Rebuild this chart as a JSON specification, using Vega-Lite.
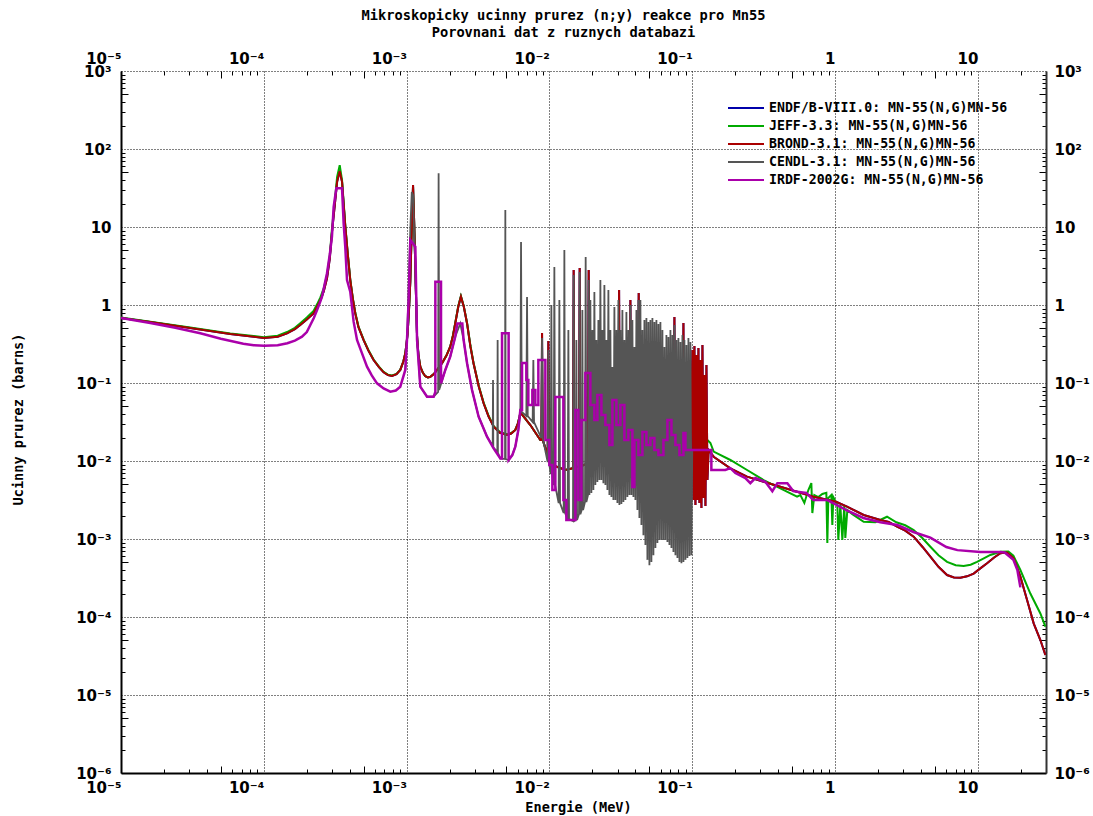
{
"$schema":"https://vega.github.io/schema/vega-lite/v6.json",
"width":925,"height":702,
"autosize":{"type":"none"},
"padding":{"left":121,"top":71,"right":47,"bottom":43},
"background":"white",
"title":{"text":["Mikroskopicky ucinny prurez (n;y) reakce pro Mn55","Porovnani dat z ruznych databazi"],"anchor":"middle","frame":"group","dx":-20,"dy":33,"font":"DejaVu Sans Mono","fontSize":13.7,"fontWeight":"bold","color":"#000","lineHeight":17,"offset":30,"baseline":"bottom"},
"datasets":{
"brond":[
{"E":1e-5,"s":0.68},{"E":1.6e-5,"s":0.605},{"E":3.05e-5,"s":0.507},{"E":5.82e-5,"s":0.425},{"E":1e-4,"s":0.377},{"E":1.25e-4,"s":0.392},{"E":1.454e-4,"s":0.433},{"E":1.65e-4,"s":0.49},{"E":1.8e-4,"s":0.554},{"E":2.0e-4,"s":0.65},{"E":2.23e-4,"s":0.78},{"E":2.36e-4,"s":0.95},{"E":2.49e-4,"s":1.15},{"E":2.63e-4,"s":1.5},{"E":2.77e-4,"s":2.2},{"E":2.9e-4,"s":4.0},{"E":3.0e-4,"s":8.5},{"E":3.13e-4,"s":18},{"E":3.26e-4,"s":38},{"E":3.4e-4,"s":52},{"E":3.53e-4,"s":38},{"E":3.62e-4,"s":20},{"E":3.72e-4,"s":10.1},{"E":3.87e-4,"s":4.5},{"E":4.03e-4,"s":2.09},{"E":4.2e-4,"s":1.2},{"E":4.37e-4,"s":0.78},{"E":4.6e-4,"s":0.52},{"E":5.0e-4,"s":0.355},{"E":5.4e-4,"s":0.26},{"E":5.87e-4,"s":0.197},{"E":6.4e-4,"s":0.16},{"E":6.9e-4,"s":0.137},{"E":7.4e-4,"s":0.126},{"E":7.9e-4,"s":0.123},{"E":8.5e-4,"s":0.13},{"E":9.03e-4,"s":0.147},{"E":9.5e-4,"s":0.19},{"E":9.79e-4,"s":0.24},{"E":1.0e-3,"s":0.33},{"E":1.016e-3,"s":0.43},{"E":1.04e-3,"s":0.9},{"E":1.061e-3,"s":2.0},{"E":1.087e-3,"s":10},{"E":1.109e-3,"s":34.5},{"E":1.132e-3,"s":10},{"E":1.16e-3,"s":1.6},{"E":1.183e-3,"s":0.4},{"E":1.21e-3,"s":0.23},{"E":1.247e-3,"s":0.162},{"E":1.3e-3,"s":0.135},{"E":1.352e-3,"s":0.122},{"E":1.41e-3,"s":0.118},{"E":1.466e-3,"s":0.12},{"E":1.55e-3,"s":0.13},{"E":1.633e-3,"s":0.147},{"E":1.77e-3,"s":0.179},{"E":1.9e-3,"s":0.225},{"E":2.02e-3,"s":0.292},{"E":2.11e-3,"s":0.4},{"E":2.19e-3,"s":0.58},{"E":2.3e-3,"s":0.95},{"E":2.4e-3,"s":1.28},{"E":2.515e-3,"s":0.95},{"E":2.65e-3,"s":0.58},{"E":2.8e-3,"s":0.29},{"E":2.94e-3,"s":0.179},{"E":3.2e-3,"s":0.09},{"E":3.46e-3,"s":0.055},{"E":3.75e-3,"s":0.037},{"E":4.07e-3,"s":0.0275},{"E":4.5e-3,"s":0.023},{"E":5.05e-3,"s":0.0216},{"E":5.4e-3,"s":0.0225},{"E":5.77e-3,"s":0.025},{"E":6.0e-3,"s":0.03},{"E":6.18e-3,"s":0.037},
{"E":6.256e-3,"s":0.042},{"E":7.351e-3,"s":0.0289},{"E":8.638e-3,"s":0.0186},{"E":8.778e-3,"s":0.0186},{"E":8.878e-3,"s":0.4375},{"E":8.979e-3,"s":0.0186},{"E":9.718e-3,"s":0.0119},{"E":9.828e-3,"s":0.345},{"E":9.94e-3,"s":0.0119},{"E":1.1003e-2,"s":0.0086},{"E":1.2929e-2,"s":0.0077},{"E":1.4614e-2,"s":0.0081},{"E":1.478e-2,"s":2.81},{"E":1.4948e-2,"s":0.0081},{"E":1.6102e-2,"s":0.0086},{"E":1.6285e-2,"s":2.98},{"E":1.647e-2,"s":0.0086},{"E":1.7852e-2,"s":0.009},{"E":1.8618e-2,"s":0.0093},{"E":1.8829e-2,"s":2.81},{"E":1.9043e-2,"s":0.0095},{"E":2.0977e-2,"s":0.0105},{"E":2.465e-2,"s":0.011},{"E":3.04e-2,"s":0.011},{"E":3.0747e-2,"s":1.56},{"E":3.11e-2,"s":0.011},{"E":3.648e-2,"s":0.011},{"E":3.6896e-2,"s":1.16},{"E":3.731e-2,"s":0.011},{"E":4.171e-2,"s":0.011},{"E":4.2183e-2,"s":1.42},{"E":4.266e-2,"s":0.011},{"E":5.0945e-2,"s":0.011},{"E":7.419e-2,"s":0.011},{"E":7.5033e-2,"s":0.702},{"E":7.589e-2,"s":0.011},{"E":8.578e-2,"s":0.011},{"E":8.6758e-2,"s":0.588},{"E":8.774e-2,"s":0.011},{"E":9.713e-2,"s":0.011},
{"E":0.100315,"s":0.265},{"E":0.101947,"s":0.00316},{"E":0.103604,"s":0.298},{"E":0.105289,"s":0.00273},{"E":0.107002,"s":0.229},{"E":0.108742,"s":0.00316},{"E":0.11051,"s":0.281},{"E":0.112308,"s":0.00289},{"E":0.11413,"s":0.197},{"E":0.11599,"s":0.0025},{"E":0.11788,"s":0.307},{"E":0.11979,"s":0.00335},{"E":0.12174,"s":0.127},{"E":0.12372,"s":0.00265},{"E":0.12573,"s":0.17},{"E":0.12778,"s":0.00571},
{"E":0.1302,"s":0.0138},{"E":0.1412,"s":0.01135},{"E":0.1849,"s":0.00805},{"E":0.242,"s":0.0063},{"E":0.3162,"s":0.00543},{"E":0.414,"s":0.00468},{"E":0.5418,"s":0.00404},{"E":0.7083,"s":0.00349},{"E":1.016,"s":0.003},{"E":1.213,"s":0.0026},{"E":1.586,"s":0.00203},{"E":2.076,"s":0.00175},{"E":2.374,"s":0.00166},{"E":2.718,"s":0.00144},{"E":3.1,"s":0.00128},{"E":3.552,"s":0.00107},{"E":4.1,"s":0.00079},{"E":4.65,"s":0.000593},{"E":5.3,"s":0.00044},{"E":6.085,"s":0.000345},{"E":6.8,"s":0.000322},{"E":7.544,"s":0.000319},{"E":8.4,"s":0.000332},{"E":9.346,"s":0.00036},{"E":10.4,"s":0.00042},{"E":11.6,"s":0.000488},{"E":13.0,"s":0.00058},{"E":14.38,"s":0.000656},{"E":16.01,"s":0.00067},{"E":17.81,"s":0.000566},{"E":19.85,"s":0.000329},{"E":22.11,"s":0.000165},{"E":24.59,"s":0.000083},{"E":27.4,"s":0.0000507},{"E":29.7,"s":0.0000326}
],
"jeff":[
{"E":1e-5,"s":0.69},{"E":1.6e-5,"s":0.612},{"E":3.05e-5,"s":0.515},{"E":5.82e-5,"s":0.432},{"E":1e-4,"s":0.387},{"E":1.25e-4,"s":0.405},{"E":1.454e-4,"s":0.45},{"E":1.65e-4,"s":0.51},{"E":1.8e-4,"s":0.585},{"E":2.0e-4,"s":0.69},{"E":2.23e-4,"s":0.84},{"E":2.36e-4,"s":1.02},{"E":2.49e-4,"s":1.25},{"E":2.63e-4,"s":1.65},{"E":2.77e-4,"s":2.4},{"E":2.9e-4,"s":4.4},{"E":3.0e-4,"s":9.5},{"E":3.13e-4,"s":20},{"E":3.26e-4,"s":44},{"E":3.4e-4,"s":62},{"E":3.53e-4,"s":40},{"E":3.62e-4,"s":21},{"E":3.72e-4,"s":10.5},{"E":3.87e-4,"s":4.6},{"E":4.03e-4,"s":2.15},{"E":4.2e-4,"s":1.22},{"E":4.37e-4,"s":0.8},{"E":4.6e-4,"s":0.53},{"E":5.0e-4,"s":0.36},{"E":5.4e-4,"s":0.265},{"E":5.87e-4,"s":0.2},{"E":6.4e-4,"s":0.162},{"E":6.9e-4,"s":0.139},{"E":7.4e-4,"s":0.128},{"E":7.9e-4,"s":0.125},{"E":8.5e-4,"s":0.131},{"E":9.03e-4,"s":0.148},{"E":9.5e-4,"s":0.19},{"E":9.79e-4,"s":0.24},{"E":1.0e-3,"s":0.33},{"E":1.016e-3,"s":0.43},{"E":1.04e-3,"s":0.9},{"E":1.061e-3,"s":2.0},{"E":1.087e-3,"s":10},{"E":1.109e-3,"s":33},{"E":1.132e-3,"s":10},{"E":1.16e-3,"s":1.6},{"E":1.183e-3,"s":0.4},{"E":1.21e-3,"s":0.23},{"E":1.247e-3,"s":0.162},{"E":1.3e-3,"s":0.135},{"E":1.352e-3,"s":0.122},{"E":1.41e-3,"s":0.118},{"E":1.466e-3,"s":0.12},{"E":1.55e-3,"s":0.13},{"E":1.633e-3,"s":0.147},{"E":1.77e-3,"s":0.179},{"E":1.9e-3,"s":0.225},{"E":2.02e-3,"s":0.292},{"E":2.11e-3,"s":0.41},{"E":2.19e-3,"s":0.59},{"E":2.3e-3,"s":0.97},{"E":2.4e-3,"s":1.3},{"E":2.515e-3,"s":0.96},{"E":2.65e-3,"s":0.59},{"E":2.8e-3,"s":0.3},{"E":2.94e-3,"s":0.182},{"E":3.2e-3,"s":0.092},{"E":3.46e-3,"s":0.056},{"E":3.75e-3,"s":0.038},{"E":4.07e-3,"s":0.028},{"E":4.5e-3,"s":0.0235},{"E":5.05e-3,"s":0.022},{"E":5.4e-3,"s":0.0228},{"E":5.77e-3,"s":0.025},{"E":6.0e-3,"s":0.03},{"E":6.18e-3,"s":0.037},
{"E":6.256e-3,"s":0.042},{"E":7.351e-3,"s":0.0289},{"E":8.638e-3,"s":0.0186},{"E":8.979e-3,"s":0.0186},{"E":9.718e-3,"s":0.0119},{"E":1.1003e-2,"s":0.0086},{"E":1.2929e-2,"s":0.0077},{"E":1.4614e-2,"s":0.0081},{"E":1.647e-2,"s":0.0086},{"E":1.7852e-2,"s":0.009},{"E":1.9043e-2,"s":0.0095},{"E":2.0977e-2,"s":0.0105},{"E":2.465e-2,"s":0.011},{"E":9.713e-2,"s":0.011},{"E":0.1276,"s":0.0186},
{"E":0.1341,"s":0.017},{"E":0.1412,"s":0.0132},{"E":0.1849,"s":0.0103},{"E":0.242,"s":0.00767},{"E":0.3162,"s":0.0057},{"E":0.414,"s":0.00447},{"E":0.5418,"s":0.00349},{"E":0.5715,"s":0.00366},{"E":0.6095,"s":0.0029},{"E":0.6501,"s":0.00425},{"E":0.6823,"s":0.0052},{"E":0.6934,"s":0.00215},{"E":0.7161,"s":0.00366},{"E":0.7638,"s":0.00345},{"E":0.8147,"s":0.00378},{"E":0.869,"s":0.0039},{"E":0.8831,"s":0.00089},{"E":0.8974,"s":0.00337},{"E":0.9418,"s":0.00366},{"E":0.9572,"s":0.00151},{"E":0.9727,"s":0.00345},{"E":1.038,"s":0.00273},{"E":1.054,"s":0.00097},{"E":1.089,"s":0.00273},{"E":1.125,"s":0.00097},{"E":1.161,"s":0.00273},{"E":1.18,"s":0.00103},{"E":1.219,"s":0.00235},{"E":1.321,"s":0.00208},{"E":1.586,"s":0.00166},{"E":1.915,"s":0.00164},{"E":2.312,"s":0.00193},{"E":2.686,"s":0.00164},{"E":3.1,"s":0.0015},{"E":3.552,"s":0.0013},{"E":4.1,"s":0.00102},{"E":4.65,"s":0.000795},{"E":5.3,"s":0.00062},{"E":6.085,"s":0.00051},{"E":7.0,"s":0.000462},{"E":7.955,"s":0.00045},{"E":8.9,"s":0.000468},{"E":9.87,"s":0.00051},{"E":11.0,"s":0.000565},{"E":12.23,"s":0.000624},{"E":14.38,"s":0.000687},{"E":16.35,"s":0.00069},{"E":17.73,"s":0.00061},{"E":19.85,"s":0.0004},{"E":23.31,"s":0.0002},{"E":27.4,"s":0.000111},{"E":29.7,"s":0.000075}
],
"cendl":[
{"E":9.79e-4,"s":0.147},{"E":1.006e-3,"s":0.356},{"E":1.033e-3,"s":1.56},{"E":1.061e-3,"s":9.15},{"E":1.087e-3,"s":28.1},{"E":1.109e-3,"s":25.7},{"E":1.132e-3,"s":6.81},{"E":1.151e-3,"s":3.78},{"E":1.183e-3,"s":0.356},{"E":1.247e-3,"s":0.0897},{"E":1.39e-3,"s":0.0667},{"E":1.546e-3,"s":0.0667},{"E":1.662e-3,"s":0.0767},{"E":1.675e-3,"s":49},{"E":1.689e-3,"s":0.0813},{"E":1.75e-3,"s":0.1},{"E":1.866e-3,"s":0.147},{"E":2.02e-3,"s":0.217},{"E":2.19e-3,"s":0.392},{"E":2.377e-3,"s":0.58},{"E":2.507e-3,"s":0.356},{"E":2.65e-3,"s":0.179},{"E":2.871e-3,"s":0.0813},{"E":3.193e-3,"s":0.037},{"E":3.656e-3,"s":0.0205},{"E":4.006e-3,"s":0.0156},{"E":4.027e-3,"s":0.109},{"E":4.046e-3,"s":0.015},{"E":4.317e-3,"s":0.013},{"E":4.338e-3,"s":0.356},{"E":4.359e-3,"s":0.0127},{"E":4.53e-3,"s":0.0108},{"E":4.887e-3,"s":0.0106},{"E":4.911e-3,"s":16.5},{"E":4.935e-3,"s":0.0106},{"E":5.18e-3,"s":0.0103},{"E":5.497e-3,"s":0.0119},{"E":5.77e-3,"s":0.0153},{"E":6.056e-3,"s":0.025},{"E":6.256e-3,"s":0.0425},
{"E":6.327e-3,"s":6.42},{"E":6.399e-3,"s":0.0425},
{"E":6.891e-3,"s":0.0378},{"E":6.969e-3,"s":1.27},{"E":7.048e-3,"s":0.0378},
{"E":7.629e-3,"s":0.0316},{"E":7.716e-3,"s":0.197},{"E":7.803e-3,"s":0.0316},
{"E":8.778e-3,"s":0.0197},{"E":8.878e-3,"s":0.378},{"E":8.979e-3,"s":0.0197},
{"E":9.718e-3,"s":0.00971},{"E":9.828e-3,"s":0.265},{"E":9.94e-3,"s":0.00971},
{"E":1.0199e-2,"s":0.00681},{"E":1.0315e-2,"s":1.0},{"E":1.0432e-2,"s":0.00681},
{"E":1.0705e-2,"s":0.00492},{"E":1.0827e-2,"s":3.07},{"E":1.095e-2,"s":0.00492},
{"E":1.1604e-2,"s":0.00289},{"E":1.1736e-2,"s":1.16},{"E":1.1869e-2,"s":0.00289},
{"E":1.2579e-2,"s":0.00215},{"E":1.2722e-2,"s":5.07},{"E":1.2866e-2,"s":0.00215},
{"E":1.3418e-2,"s":0.0018},{"E":1.357e-2,"s":0.478},{"E":1.3724e-2,"s":0.0018},
{"E":1.4614e-2,"s":0.0017},{"E":1.478e-2,"s":2.42},{"E":1.4948e-2,"s":0.0017},
{"E":1.5266e-2,"s":0.00175},{"E":1.5439e-2,"s":0.356},{"E":1.5614e-2,"s":0.00175},
{"E":1.6102e-2,"s":0.00208},{"E":1.6285e-2,"s":2.65},{"E":1.647e-2,"s":0.00208},
{"E":1.6818e-2,"s":0.00235},{"E":1.7009e-2,"s":0.863},{"E":1.7202e-2,"s":0.00235},
{"E":1.7737e-2,"s":0.00298},{"E":1.7938e-2,"s":4.13},{"E":1.8142e-2,"s":0.00298},
{"E":1.8618e-2,"s":0.00366},{"E":1.8829e-2,"s":2.09},{"E":1.9043e-2,"s":0.00366},
{"E":0.019352,"s":1.16},{"E":0.019667,"s":0.0039},{"E":0.019987,"s":0.478},{"E":0.020312,"s":0.00425},{"E":0.020642,"s":1.47},{"E":0.020977,"s":0.00492},{"E":0.021319,"s":0.356},{"E":0.021666,"s":0.00538},{"E":0.022018,"s":0.642},{"E":0.022376,"s":0.00571},
{"E":0.02274,"s":2.09},{"E":0.02311,"s":0.00571},{"E":0.023486,"s":0.478},{"E":0.023868,"s":0.0052},{"E":0.024256,"s":1.8},{"E":0.02465,"s":0.00492},{"E":0.025051,"s":0.356},{"E":0.025458,"s":0.00425},{"E":0.025873,"s":1.56},{"E":0.026294,"s":0.00366},
{"E":0.026721,"s":0.478},{"E":0.027156,"s":0.00345},{"E":0.027597,"s":0.16},{"E":0.028046,"s":0.00316},{"E":0.028502,"s":0.943},{"E":0.028966,"s":0.00316},{"E":0.029436,"s":0.478},{"E":0.029915,"s":0.00289},{"E":0.030402,"s":1.16},{"E":0.030897,"s":0.00273},
{"E":0.031399,"s":0.478},{"E":0.03191,"s":0.00281},{"E":0.032428,"s":0.863},{"E":0.032956,"s":0.00298},{"E":0.033492,"s":0.356},{"E":0.034036,"s":0.00316},{"E":0.03459,"s":0.813},{"E":0.035152,"s":0.00345},{"E":0.035724,"s":0.478},{"E":0.036306,"s":0.00366},
{"E":0.036896,"s":1.0},{"E":0.037496,"s":0.00366},{"E":0.038106,"s":0.642},{"E":0.038726,"s":0.00345},{"E":0.039355,"s":0.289},{"E":0.039995,"s":0.00316},{"E":0.040646,"s":0.863},{"E":0.041307,"s":0.00235},{"E":0.041979,"s":1.16},{"E":0.042662,"s":0.00186},
{"E":0.043355,"s":1.16},{"E":0.04406,"s":0.00151},{"E":0.044777,"s":0.478},{"E":0.045505,"s":0.00112},{"E":0.046245,"s":0.642},{"E":0.046997,"s":0.000838},{"E":0.047761,"s":0.681},{"E":0.048538,"s":0.00054},{"E":0.049327,"s":0.605},{"E":0.05013,"s":0.00046},
{"E":0.050945,"s":0.642},{"E":0.051773,"s":0.000507},{"E":0.052615,"s":0.681},{"E":0.053471,"s":0.00062},{"E":0.054341,"s":0.605},{"E":0.055224,"s":0.000767},{"E":0.056122,"s":0.642},{"E":0.057035,"s":0.000888},{"E":0.057963,"s":0.571},{"E":0.058905,"s":0.00097},
{"E":0.059864,"s":0.605},{"E":0.060837,"s":0.00097},{"E":0.061827,"s":0.478},{"E":0.062832,"s":0.00097},{"E":0.063854,"s":0.289},{"E":0.064893,"s":0.00097},{"E":0.065948,"s":0.412},{"E":0.067021,"s":0.000915},{"E":0.068111,"s":0.389},{"E":0.069218,"s":0.000838},
{"E":0.070344,"s":0.478},{"E":0.071488,"s":0.000767},{"E":0.072651,"s":0.412},{"E":0.073832,"s":0.000681},{"E":0.075033,"s":0.554},{"E":0.076253,"s":0.00062},{"E":0.077493,"s":0.356},{"E":0.078754,"s":0.000571},{"E":0.080034,"s":0.378},{"E":0.081336,"s":0.000507},
{"E":0.082659,"s":0.335},{"E":0.084003,"s":0.00049},{"E":0.085369,"s":0.412},{"E":0.086758,"s":0.000507},{"E":0.088169,"s":0.356},{"E":0.089603,"s":0.00054},{"E":0.09106,"s":0.307},{"E":0.092541,"s":0.000571},{"E":0.094046,"s":0.378},{"E":0.095576,"s":0.000605},
{"E":0.09713,"s":0.335},{"E":0.09871,"s":0.00062},{"E":0.1,"s":0.0138}
],
"irdf":[
{"E":1e-5,"s":0.68},{"E":1.604e-5,"s":0.588},{"E":2.4e-5,"s":0.51},{"E":3.591e-5,"s":0.434},{"E":5.0e-5,"s":0.37},{"E":7.187e-5,"s":0.318},{"E":8.5e-5,"s":0.305},{"E":1.008e-4,"s":0.3},{"E":1.25e-4,"s":0.305},{"E":1.461e-4,"s":0.323},{"E":1.65e-4,"s":0.35},{"E":1.851e-4,"s":0.392},{"E":2.0e-4,"s":0.45},{"E":2.117e-4,"s":0.554},{"E":2.24e-4,"s":0.68},{"E":2.36e-4,"s":0.86},{"E":2.46e-4,"s":1.05},{"E":2.556e-4,"s":1.28},{"E":2.66e-4,"s":1.8},{"E":2.77e-4,"s":2.55},{"E":2.9e-4,"s":4.5},{"E":3.0e-4,"s":7.5},{"E":3.083e-4,"s":18},{"E":3.219e-4,"s":31.3},{"E":3.53e-4,"s":31.3},{"E":3.622e-4,"s":11.2},{"E":3.72e-4,"s":5.5},{"E":3.825e-4,"s":2.09},{"E":4.03e-4,"s":1.48},{"E":4.255e-4,"s":0.611},{"E":4.495e-4,"s":0.356},{"E":4.872e-4,"s":0.24},{"E":5.28e-4,"s":0.162},{"E":5.7e-4,"s":0.125},{"E":6.204e-4,"s":0.099},{"E":6.9e-4,"s":0.085},{"E":7.69e-4,"s":0.0774},{"E":8.4e-4,"s":0.08},{"E":9.03e-4,"s":0.0897},{"E":9.79e-4,"s":0.147},{"E":1.006e-3,"s":0.356},{"E":1.033e-3,"s":1.16},{"E":1.061e-3,"s":6.81},{"E":1.151e-3,"s":5.59},{"E":1.183e-3,"s":0.356},{"E":1.247e-3,"s":0.0897},{"E":1.39e-3,"s":0.0667},{"E":1.546e-3,"s":0.0667},{"E":1.589e-3,"s":0.0767},{"E":1.589e-3,"s":1.99},{"E":1.741e-3,"s":1.99},{"E":1.741e-3,"s":0.0991},{"E":1.866e-3,"s":0.147},{"E":2.02e-3,"s":0.218},{"E":2.19e-3,"s":0.392},{"E":2.265e-3,"s":0.58},{"E":2.455e-3,"s":0.58},{"E":2.507e-3,"s":0.356},{"E":2.65e-3,"s":0.179},{"E":2.871e-3,"s":0.0813},{"E":3.193e-3,"s":0.037},{"E":3.656e-3,"s":0.0205},{"E":4.065e-3,"s":0.0145},{"E":4.53e-3,"s":0.0108},{"E":4.656e-3,"s":0.0108},{"E":4.656e-3,"s":0.434},{"E":5.18e-3,"s":0.434},{"E":5.18e-3,"s":0.0103},{"E":5.497e-3,"s":0.0119},{"E":5.77e-3,"s":0.0153},{"E":6.056e-3,"s":0.025},{"E":6.256e-3,"s":0.0451},
{"E":6.43e-3,"s":0.0451},{"E":6.43e-3,"s":0.1805},{"E":6.892e-3,"s":0.1805},{"E":6.892e-3,"s":0.109},{"E":7.118e-3,"s":0.109},{"E":7.118e-3,"s":0.0522},{"E":7.592e-3,"s":0.0522},{"E":7.592e-3,"s":0.0813},{"E":7.969e-3,"s":0.0813},{"E":7.969e-3,"s":0.0522},{"E":8.364e-3,"s":0.0522},{"E":8.364e-3,"s":0.197},{"E":9.364e-3,"s":0.197},{"E":9.364e-3,"s":0.0186},{"E":9.988e-3,"s":0.0186},{"E":9.988e-3,"s":0.00889},{"E":1.0483e-2,"s":0.00889},{"E":1.0483e-2,"s":0.00425},{"E":1.1003e-2,"s":0.00425},{"E":1.1003e-2,"s":0.0662},{"E":1.2518e-2,"s":0.0662},{"E":1.2518e-2,"s":0.00316},{"E":1.3139e-2,"s":0.00316},{"E":1.3139e-2,"s":0.00175},{"E":1.5192e-2,"s":0.00175},{"E":1.5192e-2,"s":0.0451},{"E":1.5946e-2,"s":0.0451},{"E":1.5946e-2,"s":0.00316},{"E":1.6737e-2,"s":0.00316},{"E":1.6737e-2,"s":0.0335},{"E":1.7852e-2,"s":0.0335},{"E":1.7852e-2,"s":0.1343},{"E":1.9352e-2,"s":0.1343},{"E":1.9352e-2,"s":0.0522},{"E":2.0642e-2,"s":0.0522},{"E":2.0642e-2,"s":0.0335},{"E":2.1666e-2,"s":0.0335},{"E":2.1666e-2,"s":0.0702},{"E":2.311e-2,"s":0.0702},{"E":2.311e-2,"s":0.0389},{"E":2.465e-2,"s":0.0389},{"E":2.465e-2,"s":0.0289},{"E":2.629e-2,"s":0.0289},{"E":2.629e-2,"s":0.016},{"E":2.76e-2,"s":0.016},{"E":2.76e-2,"s":0.0605},{"E":2.944e-2,"s":0.0605},{"E":2.944e-2,"s":0.0289},{"E":3.1399e-2,"s":0.0289},{"E":3.1399e-2,"s":0.0522},{"E":3.349e-2,"s":0.0522},{"E":3.349e-2,"s":0.0186},{"E":3.572e-2,"s":0.0186},{"E":3.572e-2,"s":0.025},{"E":3.811e-2,"s":0.025},{"E":3.811e-2,"s":0.00465},{"E":3.936e-2,"s":0.00465},{"E":3.936e-2,"s":0.0186},{"E":4.198e-2,"s":0.0186},{"E":4.198e-2,"s":0.0119},{"E":4.478e-2,"s":0.0119},{"E":4.478e-2,"s":0.0235},{"E":4.776e-2,"s":0.0235},{"E":4.776e-2,"s":0.016},{"E":5.0945e-2,"s":0.016},{"E":5.0945e-2,"s":0.0197},{"E":5.434e-2,"s":0.0197},{"E":5.434e-2,"s":0.0138},{"E":5.796e-2,"s":0.0138},{"E":5.796e-2,"s":0.0119},{"E":6.283e-2,"s":0.0119},{"E":6.283e-2,"s":0.0186},{"E":6.702e-2,"s":0.0186},{"E":6.702e-2,"s":0.0335},{"E":7.149e-2,"s":0.0335},{"E":7.149e-2,"s":0.0215},{"E":7.625e-2,"s":0.0215},{"E":7.625e-2,"s":0.016},{"E":8.134e-2,"s":0.016},{"E":8.134e-2,"s":0.0119},{"E":8.676e-2,"s":0.0119},{"E":8.676e-2,"s":0.0229},{"E":8.96e-2,"s":0.0229},{"E":8.96e-2,"s":0.0138},
{"E":0.1361,"s":0.0138},{"E":0.1361,"s":0.00767},{"E":0.1705,"s":0.00767},{"E":0.1849,"s":0.0081},{"E":0.2004,"s":0.007},{"E":0.2354,"s":0.00605},{"E":0.2552,"s":0.0052},{"E":0.2767,"s":0.00605},{"E":0.325,"s":0.0054},{"E":0.3638,"s":0.0041},{"E":0.3944,"s":0.0052},{"E":0.4634,"s":0.0052},{"E":0.5105,"s":0.0041},{"E":0.6295,"s":0.0039},{"E":0.7047,"s":0.00316},{"E":0.8834,"s":0.00316},{"E":1.1996,"s":0.00235},{"E":1.579,"s":0.00186},{"E":2.076,"s":0.00164},{"E":2.731,"s":0.00151},{"E":3.535,"s":0.00123},{"E":4.65,"s":0.00104},{"E":6.017,"s":0.00079},{"E":7.185,"s":0.00072},{"E":10.41,"s":0.00068},{"E":14.38,"s":0.00068},{"E":15.41,"s":0.00067},{"E":17.73,"s":0.00054},{"E":18.91,"s":0.0004},{"E":19.85,"s":0.00024}
]
},
"layer":[
{"data":{"name":"brond"},"mark":{"type":"line","strokeWidth":2,"clip":true},
 "encoding":{
  "x":{"field":"E","type":"quantitative","scale":{"type":"log","domain":[0.00001,30],"nice":false},
   "axis":{"orient":"bottom","values":[0.00001,0.00002,0.00003,0.00004,0.00005,0.00006,0.00007,0.00008,0.00009,0.0001,0.0002,0.0003,0.0004,0.0005,0.0006,0.0007,0.0008,0.0009,0.001,0.002,0.003,0.004,0.005,0.006,0.007,0.008,0.009,0.01,0.02,0.03,0.04,0.05,0.06,0.07,0.08,0.09,0.1,0.2,0.3,0.4,0.5,0.6,0.7,0.8,0.9,1,2,3,4,5,6,7,8,9,10,20],
    "labelExpr":"abs(log(datum.value)/LN10-round(log(datum.value)/LN10))<0.001 ? ['10⁻⁶','10⁻⁵','10⁻⁴','10⁻³','10⁻²','10⁻¹','1','10','10²','10³'][round(log(datum.value)/LN10)+6] : ''",
    "grid":true,"gridDash":[1,2],"gridColor":"#000","gridWidth":1,
    "gridOpacity":{"condition":{"test":"abs(log(datum.value)/LN10-round(log(datum.value)/LN10))<0.001","value":1},"value":0},
    "ticks":true,"tickColor":"#000","tickWidth":1,
    "tickSize":{"condition":[{"test":"abs(log(datum.value)/LN10-round(log(datum.value)/LN10))<0.001","value":0},{"test":"abs(datum.value/pow(10,floor(log(datum.value)/LN10+0.0001))-5)<0.01","value":-7}],"value":-4},
    "domain":true,"domainColor":"#000","domainWidth":2,
    "labelFont":"DejaVu Sans","labelFontSize":15,"labelFontWeight":"bold","labelColor":"#000","labelAlign":"right","labelBaseline":"top","labelPadding":7,"labelFlush":false,"labelOverlap":false,"labelBound":false,
    "title":"Energie (MeV)","titleFont":"DejaVu Sans Mono","titleFontSize":13.6,"titleFontWeight":"bold","titleColor":"#000","titleX":457,"titleY":38,"titleAlign":"center","titleBaseline":"alphabetic","titleAnchor":null}},
  "y":{"field":"s","type":"quantitative","scale":{"type":"log","domain":[0.000001,1000],"nice":false},
   "axis":{"orient":"left","values":[0.000001,0.000002,0.000003,0.000004,0.000005,0.000006,0.000007,0.000008,0.000009,0.00001,0.00002,0.00003,0.00004,0.00005,0.00006,0.00007,0.00008,0.00009,0.0001,0.0002,0.0003,0.0004,0.0005,0.0006,0.0007,0.0008,0.0009,0.001,0.002,0.003,0.004,0.005,0.006,0.007,0.008,0.009,0.01,0.02,0.03,0.04,0.05,0.06,0.07,0.08,0.09,0.1,0.2,0.3,0.4,0.5,0.6,0.7,0.8,0.9,1,2,3,4,5,6,7,8,9,10,20,30,40,50,60,70,80,90,100,200,300,400,500,600,700,800,900,1000],
    "labelExpr":"abs(log(datum.value)/LN10-round(log(datum.value)/LN10))<0.001 ? ['10⁻⁶','10⁻⁵','10⁻⁴','10⁻³','10⁻²','10⁻¹','1','10','10²','10³'][round(log(datum.value)/LN10)+6] : ''",
    "grid":true,"gridDash":[1,2],"gridColor":"#000","gridWidth":1,
    "gridOpacity":{"condition":{"test":"abs(log(datum.value)/LN10-round(log(datum.value)/LN10))<0.001","value":1},"value":0},
    "ticks":true,"tickColor":"#000","tickWidth":1,
    "tickSize":{"condition":[{"test":"abs(log(datum.value)/LN10-round(log(datum.value)/LN10))<0.001","value":0},{"test":"abs(datum.value/pow(10,floor(log(datum.value)/LN10+0.0001))-5)<0.01","value":-7}],"value":-4},
    "domain":true,"domainColor":"#000","domainWidth":2,
    "labelFont":"DejaVu Sans","labelFontSize":15,"labelFontWeight":"bold","labelColor":"#000","labelAlign":"right","labelBaseline":"middle","labelPadding":10,"labelFlush":false,"labelOverlap":false,"labelBound":false,
    "title":"Ucinny prurez (barns)","titleFont":"DejaVu Sans Mono","titleFontSize":13.6,"titleFontWeight":"bold","titleColor":"#000","titleAngle":-90,"titleX":-99,"titleY":348,"titleAlign":"center","titleBaseline":"alphabetic","titleAnchor":null}},
  "color":{"datum":"ENDF/B-VIII.0: MN-55(N,G)MN-56","type":"nominal",
   "scale":{"domain":["ENDF/B-VIII.0: MN-55(N,G)MN-56","JEFF-3.3: MN-55(N,G)MN-56","BROND-3.1: MN-55(N,G)MN-56","CENDL-3.1: MN-55(N,G)MN-56","IRDF-2002G: MN-55(N,G)MN-56"],"range":["#0000aa","#00aa00","#aa0000","#555555","#aa00aa"]},
   "legend":{"orient":"none","legendX":618,"legendY":30,"title":null,"symbolType":"M-3,0H3","symbolSize":144,"symbolStrokeWidth":2,"labelFont":"DejaVu Sans Mono","labelFontSize":13.2,"labelFontWeight":"bold","labelColor":"#000","labelOffset":16,"rowPadding":4,"padding":0,"labelLimit":400}},
  "order":{"value":null}}},
{"data":{"name":"jeff"},"mark":{"type":"line","strokeWidth":2,"clip":true},
 "encoding":{
  "x":{"field":"E","type":"quantitative","scale":{"type":"log","domain":[0.00001,30],"nice":false},
   "axis":{"orient":"top","values":[0.00001,0.00002,0.00003,0.00004,0.00005,0.00006,0.00007,0.00008,0.00009,0.0001,0.0002,0.0003,0.0004,0.0005,0.0006,0.0007,0.0008,0.0009,0.001,0.002,0.003,0.004,0.005,0.006,0.007,0.008,0.009,0.01,0.02,0.03,0.04,0.05,0.06,0.07,0.08,0.09,0.1,0.2,0.3,0.4,0.5,0.6,0.7,0.8,0.9,1,2,3,4,5,6,7,8,9,10,20],
    "labelExpr":"abs(log(datum.value)/LN10-round(log(datum.value)/LN10))<0.001 ? ['10⁻⁶','10⁻⁵','10⁻⁴','10⁻³','10⁻²','10⁻¹','1','10','10²','10³'][round(log(datum.value)/LN10)+6] : ''",
    "grid":false,
    "ticks":true,"tickColor":"#000","tickWidth":1,
    "tickSize":{"condition":[{"test":"abs(log(datum.value)/LN10-round(log(datum.value)/LN10))<0.001","value":0},{"test":"abs(datum.value/pow(10,floor(log(datum.value)/LN10+0.0001))-5)<0.01","value":-7}],"value":-4},
    "domain":false,
    "labelFont":"DejaVu Sans","labelFontSize":15,"labelFontWeight":"bold","labelColor":"#000","labelAlign":"right","labelBaseline":"alphabetic","labelPadding":8,"labelFlush":false,"labelOverlap":false,"labelBound":false,
    "title":null}},
  "y":{"field":"s","type":"quantitative","scale":{"type":"log","domain":[0.000001,1000],"nice":false},
   "axis":{"orient":"right","values":[0.000001,0.000002,0.000003,0.000004,0.000005,0.000006,0.000007,0.000008,0.000009,0.00001,0.00002,0.00003,0.00004,0.00005,0.00006,0.00007,0.00008,0.00009,0.0001,0.0002,0.0003,0.0004,0.0005,0.0006,0.0007,0.0008,0.0009,0.001,0.002,0.003,0.004,0.005,0.006,0.007,0.008,0.009,0.01,0.02,0.03,0.04,0.05,0.06,0.07,0.08,0.09,0.1,0.2,0.3,0.4,0.5,0.6,0.7,0.8,0.9,1,2,3,4,5,6,7,8,9,10,20,30,40,50,60,70,80,90,100,200,300,400,500,600,700,800,900,1000],
    "labelExpr":"abs(log(datum.value)/LN10-round(log(datum.value)/LN10))<0.001 ? ['10⁻⁶','10⁻⁵','10⁻⁴','10⁻³','10⁻²','10⁻¹','1','10','10²','10³'][round(log(datum.value)/LN10)+6] : ''",
    "grid":false,
    "ticks":true,"tickColor":"#000","tickWidth":1,
    "tickSize":{"condition":[{"test":"abs(log(datum.value)/LN10-round(log(datum.value)/LN10))<0.001","value":0},{"test":"abs(datum.value/pow(10,floor(log(datum.value)/LN10+0.0001))-5)<0.01","value":-7}],"value":-4},
    "domain":true,"domainColor":"#333","domainWidth":2,
    "labelFont":"DejaVu Sans","labelFontSize":15,"labelFontWeight":"bold","labelColor":"#000","labelAlign":"left","labelBaseline":"middle","labelPadding":8,"labelFlush":false,"labelOverlap":false,"labelBound":false,
    "title":null}},
  "color":{"datum":"JEFF-3.3: MN-55(N,G)MN-56","type":"nominal"},
  "order":{"value":null}}},
{"data":{"name":"brond"},"mark":{"type":"line","strokeWidth":2,"clip":true},
 "encoding":{
  "x":{"field":"E","type":"quantitative","scale":{"type":"log","domain":[0.00001,30],"nice":false},"axis":null},
  "y":{"field":"s","type":"quantitative","scale":{"type":"log","domain":[0.000001,1000],"nice":false},"axis":null},
  "color":{"datum":"BROND-3.1: MN-55(N,G)MN-56","type":"nominal"},
  "order":{"value":null}}},
{"data":{"name":"cendl"},"mark":{"type":"line","strokeWidth":1.8,"clip":true},
 "encoding":{
  "x":{"field":"E","type":"quantitative","scale":{"type":"log","domain":[0.00001,30],"nice":false},"axis":null},
  "y":{"field":"s","type":"quantitative","scale":{"type":"log","domain":[0.000001,1000],"nice":false},"axis":null},
  "color":{"datum":"CENDL-3.1: MN-55(N,G)MN-56","type":"nominal"},
  "order":{"value":null}}},
{"data":{"name":"irdf"},"mark":{"type":"line","strokeWidth":2.5,"clip":true},
 "encoding":{
  "x":{"field":"E","type":"quantitative","scale":{"type":"log","domain":[0.00001,30],"nice":false},"axis":null},
  "y":{"field":"s","type":"quantitative","scale":{"type":"log","domain":[0.000001,1000],"nice":false},"axis":null},
  "color":{"datum":"IRDF-2002G: MN-55(N,G)MN-56","type":"nominal"},
  "order":{"value":null}}}
],
"resolve":{"axis":{"x":"independent","y":"independent"}},
"config":{"view":{"stroke":null}}
}
